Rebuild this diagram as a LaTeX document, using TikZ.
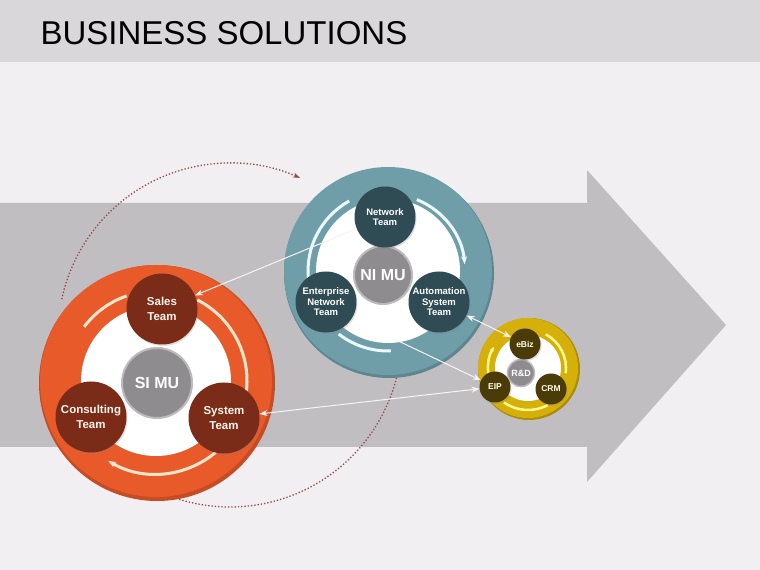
\documentclass[tikz,border=0pt]{standalone}
\usepackage{fontspec}
\setmainfont{Liberation Sans}
\usetikzlibrary{arrows.meta,shadows}
\definecolor{bgc}{HTML}{F1EFF2}
\definecolor{headc}{HTML}{D9D7DA}
\definecolor{arrowc}{HTML}{C1BEC1}
\definecolor{orangec}{HTML}{E85A2A}
\definecolor{brownc}{HTML}{7A2C18}
\definecolor{tealc}{HTML}{6F9EA8}
\definecolor{slatec}{HTML}{2F4B53}
\definecolor{goldc}{HTML}{D6B00A}
\definecolor{olivec}{HTML}{4B3B08}
\definecolor{hubc}{HTML}{8F8C90}
\definecolor{dotc}{HTML}{8E4A40}
\definecolor{linkc}{HTML}{F8F4F4}
\begin{document}
\begin{tikzpicture}[x=1pt,y=1pt,
  team/.style={circle,inner sep=0pt,align=center,font=\bfseries,
    drop shadow={opacity=0.25,shadow xshift=1pt,shadow yshift=-1.5pt}},
  oteam/.style={team,fill=brownc,minimum size=71pt,text=orange!8,
    font=\bfseries\fontsize{11.5}{14.5}\selectfont},
  tteam/.style={team,fill=slatec,minimum size=61pt,text=white,
    font=\bfseries\fontsize{9.5}{10.5}\selectfont},
  yteam/.style={team,fill=olivec,minimum size=31pt,text=yellow!10,
    font=\bfseries\fontsize{8.5}{10}\selectfont},
  hub/.style={circle,inner sep=0pt,fill=hubc,draw=hubc!60,line width=2pt,text=white,
    font=\bfseries\fontsize{16}{18}\selectfont},
  oarc/.style={orange!20,line width=3pt},
  tarc/.style={cyan!8,line width=3pt},
  yarc/.style={yellow!45,line width=2.5pt},
  link/.style={linkc,line width=1pt},
  flow/.style={dotc,dotted,line width=1.3pt},
  tip/.style={-{Stealth[length=8pt,width=6pt]}}]
\useasboundingbox (0,0) rectangle (760,570);
\fill[bgc] (0,0) rectangle (760,570);
\fill[headc] (0,508) rectangle (760,570);
\node[anchor=base west,font=\fontsize{33}{40}\selectfont] (title) at (37,525) {BUSINESS SOLUTIONS};
% big arrow
\fill[arrowc] (0,367) -- (587,367) -- (587,400) -- (726,245) -- (587,88) -- (587,123) -- (0,123) -- cycle;
% dotted flow
\draw[flow,-{Stealth[length=7pt,width=5pt]}] (230,235) ++(168:172) arc[start angle=168,end angle=66,radius=172];
\draw[flow] (230,235) ++(-10:172) arc[start angle=-10,end angle=-112,radius=172];

% SI MU
\fill[orangec!85!black] (157,187) circle (118);
\fill[orangec] (156,189) circle (116);
\fill[white] (156,189) circle (75);
\draw[oarc] (156,189) ++(109:90) arc[start angle=109,end angle=143,radius=90];
\draw[oarc] (156,189) ++(63:91) arc[start angle=63,end angle=-7,radius=91];
\draw[oarc,tip] (156,189) ++(-50:93) arc[start angle=-50,end angle=-121,radius=93];
\node[hub,minimum size=70pt] (simu) at (157,187) {SI MU};
\node[oteam] (sales) at (162,261) {Sales\\Team};
\node[oteam] (consult) at (91,153) {Consulting\\Team};
\node[oteam] (system) at (224,152) {System\\Team};

% NI MU
\fill[tealc!85!black] (389,297) circle (105);
\fill[tealc] (388,299) circle (104);
\fill[white] (388,299) circle (72);
\draw[tarc] (388,299) ++(119:80) arc[start angle=119,end angle=186,radius=80];
\draw[tarc,tip] (388,299) ++(68:77) arc[start angle=68,end angle=5,radius=77];
\draw[tarc] (388,299) ++(-128:80) arc[start angle=-128,end angle=-88,radius=80];
\node[hub,minimum size=58pt] (nimu) at (383,295) {NI MU};
\node[tteam] (net) at (385,353) {Network\\Team};
\node[tteam] (ent) at (326,268) {Enterprise\\Network\\Team};
\node[tteam] (auto) at (439,268) {Automation\\System\\Team};

% R&D
\fill[goldc!80!black] (529,201) circle (51);
\fill[goldc] (528,202) circle (50);
\fill[white] (528,202) circle (33);
\draw[yarc,-{Stealth[length=5pt,width=4pt]}] (528,202) ++(200:40) arc[start angle=200,end angle=148,radius=40];
\draw[yarc] (528,202) ++(62:38) arc[start angle=62,end angle=-8,radius=38];
\draw[yarc] (528,202) ++(-62:42) arc[start angle=-62,end angle=-125,radius=42];
\node[hub,minimum size=27pt,line width=1.5pt,font=\bfseries\fontsize{9}{10}\selectfont] (rd) at (521,197) {R\&D};
\node[yteam] (ebiz) at (525,226) {eBiz};
\node[yteam] (eip) at (495,183) {EIP};
\node[yteam] (crm) at (551,181) {CRM};

% links
\coordinate (nibot) at (392,232);
\draw[link,tip] (net) -- (sales);
\draw[link,tip] (nibot) -- (eip);
\draw[link,{Stealth[length=8pt,width=6pt]}-{Stealth[length=8pt,width=6pt]}] (auto) -- (ebiz);
\draw[link,{Stealth[length=8pt,width=6pt]}-{Stealth[length=8pt,width=6pt]}] (system) -- (eip);
\end{tikzpicture}
\end{document}
